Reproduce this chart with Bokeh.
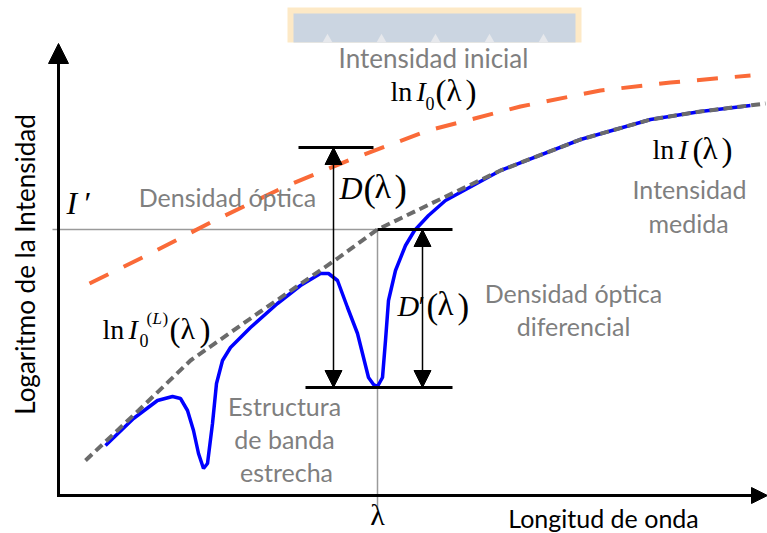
from math import pi

from bokeh.embed import file_html
from bokeh.models import Arrow, Label, NormalHead, Range1d
from bokeh.plotting import figure
from bokeh.resources import INLINE

# ---- curves (wavelength position, log-intensity depth on the drawing canvas) ----
# initial intensity ln I0(lambda)
i0_x = [89, 150, 210, 287, 350, 428, 520, 600, 670, 750]
i0_y = [283, 253, 222, 185, 159, 130, 106, 90, 82, 75]

# smooth background ln I0^(L)(lambda)
bg_x = [85, 138, 190, 260, 337, 377, 437, 500, 580, 650, 700, 765]
bg_y = [460, 410, 360, 311, 258, 229, 200, 170, 139, 119, 111, 103]

# measured intensity ln I(lambda) with two absorption bands
meas_x = [105, 133, 157, 172, 180, 187, 193, 198, 203, 207, 212, 216, 222, 230,
          250, 277, 300, 320, 328, 337, 347, 357, 363, 368, 373, 377, 382, 385,
          388, 395, 405, 414, 428, 445, 500, 580, 650, 700, 750]
meas_y = [445, 418, 400, 396, 398, 410, 430, 453, 468, 463, 423, 383, 360, 347,
          327, 303, 285, 273, 273, 280, 307, 333, 357, 377, 384, 386, 377, 340,
          300, 270, 245, 230, 215, 200, 170, 139, 119, 111, 105]

# reference levels
lam0 = 377          # absorption wavelength
i_prime = 229       # level I'
i_top = 147         # ln I0 at lambda
i_min = 387         # ln I at lambda (band bottom)
d_x = 333           # D(lambda) arrow
dp_x = 422          # D'(lambda) arrow

# canvas / axes extents
x_min, x_max = 0, 767
y_min, y_max = 0, 533
axis_x0, axis_y0 = 58, 495
axis_top = 43

GRAY_TXT = "#7f7f7f"
SANS = "Lato"
SERIF = "Liberation Serif"

p = figure(width=767, height=533, output_backend="svg", toolbar_location=None,
           x_range=Range1d(x_min, x_max), y_range=Range1d(y_max, y_min),
           min_border=0, outline_line_color=None)
p.axis.visible = False
p.grid.visible = False
p.background_fill_color = "white"
p.border_fill_color = "white"

# banner strip at the top
p.quad(left=[287], right=[581], top=[7], bottom=[42], fill_color="#fde9c6",
       line_color=None)
p.quad(left=[293], right=[575], top=[13], bottom=[42], fill_color="#cbd5e1",
       line_color=None)
p.triangle(x=[327, 381, 435, 489, 543], y=[39, 39, 39, 39, 39], size=10,
           fill_color="#e6e8ec", line_color=None)

# thin guide lines: I' level and lambda
p.line([52, lam0], [i_prime, i_prime], line_color="#9a9a9a", line_width=1.5)
p.line([lam0, lam0], [i_prime, 510], line_color="#9a9a9a", line_width=1.5)

# measured spectrum below the dotted background
p.line(meas_x, meas_y, line_color="#0000ff", line_width=3.5)
p.line(bg_x, bg_y, line_color="#6b6b6b", line_width=4, line_dash="9 5")
p.line(i0_x, i0_y, line_color="#fa6a38", line_width=4, line_dash="21 17")

# black reference bars
p.line([298, 373], [i_top, i_top], line_color="black", line_width=3)
p.line([lam0, 452], [i_prime, i_prime], line_color="black", line_width=3)
p.line([305, 452], [i_min, i_min], line_color="black", line_width=3)


def head(size):
    return NormalHead(size=size, fill_color="black", line_color="black",
                      line_width=1)


# D and D' double arrows
p.add_layout(Arrow(x_start=d_x, y_start=i_min, x_end=d_x, y_end=i_top,
                   start=head(17), end=head(17), line_width=1.5))
p.add_layout(Arrow(x_start=dp_x, y_start=i_min, x_end=dp_x, y_end=i_prime,
                   start=head(17), end=head(17), line_width=1.5))

# axes with arrowheads
p.add_layout(Arrow(x_start=axis_x0, y_start=axis_y0 + 1.5, x_end=axis_x0,
                   y_end=axis_top, end=head(20), line_width=3))
p.add_layout(Arrow(x_start=axis_x0 - 1.5, y_start=axis_y0, x_end=x_max,
                   y_end=axis_y0, end=head(16), line_width=3))

# white backing behind D'(lambda)
p.quad(left=[395], right=[478], top=[283], bottom=[326], fill_color="white",
       line_color=None)


def lab(x, y, text, size, font=SERIF, style="normal", color="black",
        align="left", angle=0.0):
    # (x, y) is the alphabetic baseline; the renderer sets the text a bit
    # lower than that, so lift it by a fraction of the font size
    lift = 0.4 * size
    if angle:
        x -= lift
    else:
        y -= lift
    p.add_layout(Label(x=x, y=y, text=text, text_font=font,
                       text_font_size=f"{size}px", text_font_style=style,
                       text_color=color, text_align=align,
                       text_baseline="alphabetic", angle=angle))


# gray descriptive texts
lab(433, 68, "Intensidad inicial", 26, SANS, color=GRAY_TXT, align="center")
lab(227, 206, "Densidad óptica", 25, SANS, color=GRAY_TXT, align="center")
lab(689, 198, "Intensidad", 25, SANS, color=GRAY_TXT, align="center")
lab(688, 232, "medida", 25, SANS, color=GRAY_TXT, align="center")
lab(573, 302, "Densidad óptica", 25, SANS, color=GRAY_TXT, align="center")
lab(573, 335, "diferencial", 25, SANS, color=GRAY_TXT, align="center")
lab(284, 415, "Estructura", 25, SANS, color=GRAY_TXT, align="center")
lab(284, 448, "de banda", 25, SANS, color=GRAY_TXT, align="center")
lab(286, 481, "estrecha", 25, SANS, color=GRAY_TXT, align="center")

# axis titles
lab(603, 527, "Longitud de onda", 25, SANS, align="center")
lab(35, 264, "Logaritmo de la Intensidad", 26, SANS, align="center",
    angle=pi / 2)
lab(lam0, 526, "λ", 30, align="center")

# ln I0(lambda)
lab(390, 102, "ln", 28)
lab(416, 102, "I", 28, style="italic")
lab(425, 110, "0", 18)
lab(435, 105, "(", 33)
lab(446, 102, "λ", 31)
lab(465, 105, ")", 33)

# ln I(lambda)
lab(652, 160, "ln", 28)
lab(678, 160, "I", 28, style="italic")
lab(692, 163, "(", 33)
lab(702, 160, "λ", 31)
lab(721, 163, ")", 33)

# I'
lab(66, 215, "I", 32, style="italic")
lab(84, 215, "′", 32)

# D(lambda)
lab(339, 200, "D", 32, style="italic")
lab(363, 203, "(", 37)
lab(374, 200, "λ", 34)
lab(394, 203, ")", 37)

# D'(lambda)
lab(397, 317, "D", 30, style="italic")
lab(418, 317, "′", 30)
lab(426, 320, "(", 35)
lab(437, 317, "λ", 33)
lab(457, 320, ")", 35)

# ln I0^(L)(lambda)
lab(102, 340, "ln", 28)
lab(128, 340, "I", 28, style="italic")
lab(139, 347, "0", 18)
lab(146, 325, "(", 17)
lab(152, 325, "L", 17, style="italic")
lab(162, 325, ")", 17)
lab(169, 343, "(", 33)
lab(180, 340, "λ", 30)
lab(199, 343, ")", 33)

open("out.html", "w").write(file_html(p, INLINE))
